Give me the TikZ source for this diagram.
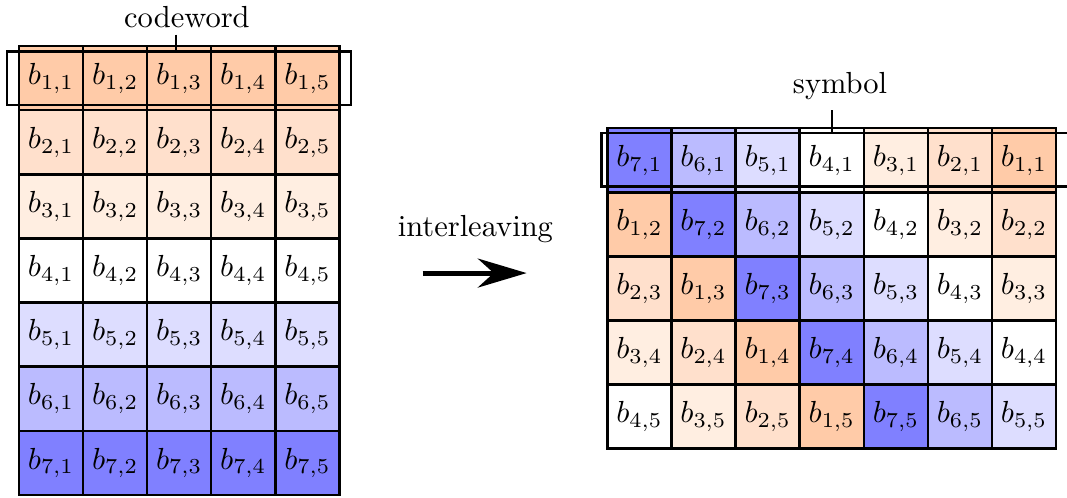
\documentclass[tikz,border=0pt]{standalone}
\usetikzlibrary{arrows.meta}
\definecolor{c1}{RGB}{255,203,168}
\definecolor{c2}{RGB}{255,224,204}
\definecolor{c3}{RGB}{255,238,225}
\definecolor{c4}{RGB}{255,255,255}
\definecolor{c5}{RGB}{221,221,255}
\definecolor{c6}{RGB}{187,187,255}
\definecolor{c7}{RGB}{128,128,255}
\begin{document}
\begin{tikzpicture}[x=0.7387cm,y=0.7387cm,
  cella/.style={draw,thick,minimum width=0.7387cm,minimum height=0.7387cm,inner sep=0pt},
  riquadro/.style={draw,thick,inner sep=0pt}]
  \useasboundingbox (-0.296,-0.047) rectangle (16.35,7.72);
  \def\u{0.7387cm}
  % matrice di partenza: riga i = codeword i
  \foreach \i in {1,...,7} {
    \foreach \j in {1,...,5} {
      \node[cella,fill=c\i] (L-\i-\j) at (\j-0.5,7.5-\i) {$b_{\i,\j}$};
    }
  }
  % matrice interleaved: riga r = simbolo r
  \foreach \r in {1,...,5} {
    \foreach \c in {1,...,7} {
      \pgfmathtruncatemacro{\k}{mod(6+\r-\c,7)+1}
      \node[cella,fill=c\k] (R-\r-\c) at (9.18+\c-0.5,6.22-\r) {$b_{\k,\r}$};
    }
  }

  \node[riquadro,minimum width=5.36*\u,minimum height=0.83*\u] (cwbox) at (2.497,6.5) {};
  \node[riquadro,minimum width=7.41*\u,minimum height=0.833*\u] (symbox) at (12.795,5.226) {};

  \node[anchor=base] (cw) at (2.62,7.285) {codeword};
  \coordinate (cwl) at (2.45,7.18);
  \draw[thick] (cwl) -- (cwl |- cwbox.north);

  \node[anchor=base] (sym) at (12.81,6.267) {symbol};
  \coordinate (syml) at (12.68,6.0);
  \draw[thick] (syml) -- (syml |- symbox.north);

  \node[anchor=base] (il) at (7.12,4.03) {interleaving};
  \coordinate (a0) at (6.298,3.46);
  \coordinate (a1) at (7.92,3.46);
  \draw[line width=1.6pt,-{Stealth[length=16pt,width=9.5pt]}] (a0) -- (a1);
\end{tikzpicture}
\end{document}
